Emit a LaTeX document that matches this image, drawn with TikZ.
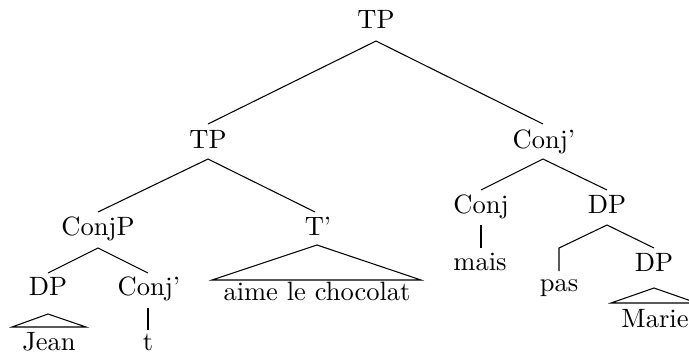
\documentclass[tikz,border=0pt]{standalone}
\begin{document}
\begin{tikzpicture}[x=0.3774pt,y=-0.3774pt,
  lbl/.style={anchor=base,inner sep=0pt},
  branch/.style={draw,line width=0.4pt},
  roof/.style={draw,line width=0.4pt}]
\useasboundingbox (0,0) rectangle (689,354);
% labels
\node[lbl] (tp) at (376,28) {TP};
\node[lbl] (tpl) at (208,148) {TP};
\node[lbl] (cbar) at (544,148) {Conj'};
\node[lbl] (conjp) at (98,235) {ConjP};
\node[lbl] (tbar) at (318,235) {T'};
\node[lbl] (aime) at (317,300) {aime le chocolat};
\node[lbl] (dpl) at (48,295) {DP};
\node[lbl] (jean) at (49,350) {Jean};
\node[lbl] (cbarb) at (149,295) {Conj'};
\node[lbl] (tr) at (148,350) {t};
\node[lbl] (conj) at (481,213) {Conj};
\node[lbl] (mais) at (480,270) {mais};
\node[lbl] (dpr) at (607,213) {DP};
\node[lbl] (pas) at (559,291) {pas};
\node[lbl] (dpb) at (654,271) {DP};
\node[lbl] (marie) at (655,327) {Marie};
% edge end points
\coordinate (tp-b) at (376,41);
\coordinate (tpl-t) at (208,124);
\coordinate (cbar-t) at (543,124);
\coordinate (tpl-b) at (208,159);
\coordinate (conjp-t) at (98,212);
\coordinate (tbar-t) at (315,212);
\coordinate (tbar-b) at (317,245);
\coordinate (tbar-l) at (212,280);
\coordinate (tbar-r) at (421,280);
\coordinate (conjp-b) at (98,248);
\coordinate (dpl-t) at (48,273);
\coordinate (cbarb-t) at (148,273);
\coordinate (dpl-b) at (48,314);
\coordinate (dpl-l) at (12,327);
\coordinate (dpl-r) at (86,327);
\coordinate (cbarb-b) at (148,308);
\coordinate (tr-t) at (148,330);
\coordinate (cbar-b) at (543,159);
\coordinate (conj-t) at (481,190);
\coordinate (dpr-t) at (607,190);
\coordinate (conj-b) at (481,225);
\coordinate (mais-t) at (481,248);
\coordinate (dpr-b) at (607,225);
\coordinate (pas-c) at (559,248);
\coordinate (pas-t) at (559,271);
\coordinate (dpb-t) at (654,248);
\coordinate (dpb-b) at (654,288);
\coordinate (dpb-l) at (611,303);
\coordinate (dpb-r) at (697,303);
% branches
\path[branch] (tpl-t) -- (tp-b) -- (cbar-t);
\path[branch] (conjp-t) -- (tpl-b) -- (tbar-t);
\path[roof] (tbar-b) -- (tbar-l) -- (tbar-r) -- cycle;
\path[branch] (dpl-t) -- (conjp-b) -- (cbarb-t);
\path[roof] (dpl-b) -- (dpl-l) -- (dpl-r) -- cycle;
\path[branch] (cbarb-b) -- (tr-t);
\path[branch] (conj-t) -- (cbar-b) -- (dpr-t);
\path[branch] (conj-b) -- (mais-t);
\path[branch] (pas-t) -- (pas-c) -- (dpr-b) -- (dpb-t);
\path[roof] (dpb-b) -- (dpb-l) -- (dpb-r) -- cycle;
\end{tikzpicture}
\end{document}
